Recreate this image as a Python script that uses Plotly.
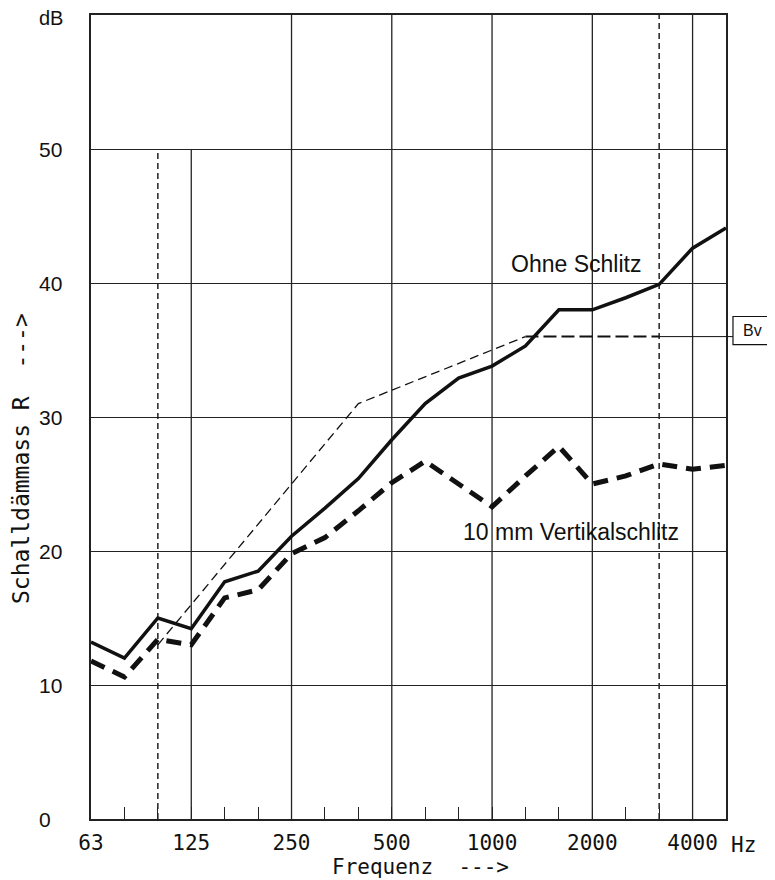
import plotly.graph_objects as go

# third-octave band centre frequencies (Hz)
freqs = [63, 80, 100, 125, 160, 200, 250, 315, 400, 500, 630, 800,
         1000, 1250, 1600, 2000, 2500, 3150, 4000, 5000]
# sound reduction index R (dB)
r_ohne = [13.2, 12.0, 15.0, 14.2, 17.7, 18.5, 21.1, 23.2, 25.4, 28.3, 31.0,
          32.9, 33.8, 35.3, 38.0, 38.0, 38.9, 39.9, 42.6, 44.1]
r_schlitz = [11.8, 10.6, 13.4, 13.0, 16.5, 17.1, 19.8, 21.0, 23.0, 25.1, 26.7,
             25.0, 23.3, 25.6, 27.8, 25.0, 25.6, 26.5, 26.1, 26.4]
# shifted reference curve (Bv)
ref_freqs = [100, 125, 160, 200, 250, 315, 400, 500, 630, 800, 1000, 1250,
             1600, 2000, 2500, 3150]
ref_vals = [13, 16, 19, 22, 25, 28, 31, 32, 33, 34, 35, 36, 36, 36, 36, 36]

octave_labels = ["63", "125", "250", "500", "1000", "2000", "4000"]
y_ticks = [0, 10, 20, 30, 40, 50]
y_top_label = "dB"

idx = {f: i for i, f in enumerate(freqs)}
x_all = [idx[f] for f in freqs]
x_ref = [idx[f] for f in ref_freqs]
n = len(freqs) - 1

fig = go.Figure()

# reference curve: sloped part thin, flat part a bit heavier
split = ref_freqs.index(1250)
fig.add_trace(go.Scatter(x=x_ref[:split + 1], y=ref_vals[:split + 1], mode="lines",
                         line=dict(color="#111", width=1.3, dash="9px,5px"),
                         showlegend=False, hoverinfo="skip"))
fig.add_trace(go.Scatter(x=x_ref[split:], y=ref_vals[split:], mode="lines",
                         line=dict(color="#111", width=2, dash="13px,5px"),
                         showlegend=False, hoverinfo="skip"))
fig.add_trace(go.Scatter(x=x_all, y=r_ohne, mode="lines",
                         line=dict(color="#111", width=3.5),
                         name="Ohne Schlitz", showlegend=False))
fig.add_trace(go.Scatter(x=x_all, y=r_schlitz, mode="lines",
                         line=dict(color="#111", width=5, dash="15px,9px"),
                         name="10 mm Vertikalschlitz", showlegend=False))

shapes = []
# octave lines (solid); 125 Hz only up to 50 dB
for lab in octave_labels[1:]:
    xi = idx[int(lab)]
    top = 50 if int(lab) == 125 else 60
    shapes.append(dict(type="line", xref="x", yref="y", x0=xi, x1=xi, y0=0, y1=top,
                       line=dict(color="#222", width=1.3), layer="below"))
# dashed lines at the limits of the evaluation range
for f, top in [(100, 50), (3150, 60)]:
    xi = idx[f]
    shapes.append(dict(type="line", xref="x", yref="y", x0=xi, x1=xi, y0=0, y1=top,
                       line=dict(color="#222", width=1.5, dash="6px,4px"), layer="below"))
# extension of the reference curve to the Bv box
x_end = idx[ref_freqs[-1]] / n
shapes.append(dict(type="line", xref="paper", yref="y", x0=x_end, x1=1.011,
                   y0=ref_vals[-1], y1=ref_vals[-1], line=dict(color="#111", width=1)))
shapes.append(dict(type="rect", xref="paper", yref="y", x0=1.011, x1=1.11,
                   y0=ref_vals[-1] - 0.6, y1=ref_vals[-1] + 1.5,
                   line=dict(color="#111", width=1.2), fillcolor="white"))

mono = "DejaVu Sans Mono"
ann = []
for v in y_ticks:
    ann.append(dict(xref="paper", yref="y", x=0, y=v, xshift=-54, xanchor="left",
                    yanchor="middle", text=str(v), showarrow=False,
                    font=dict(family="Liberation Sans", size=21, color="#111")))
ann.append(dict(xref="paper", yref="y", x=0, y=60, xshift=-54, yshift=-3,
                xanchor="left", yanchor="middle", text=y_top_label, showarrow=False,
                font=dict(family="Liberation Sans", size=20, color="#111")))
ann.append(dict(xref="paper", yref="paper", x=1, y=0, xshift=17, yshift=-26,
                xanchor="center", yanchor="middle", text="Hz", showarrow=False,
                font=dict(family=mono, size=21, color="#111")))
ann.append(dict(xref="paper", yref="paper", x=0.5, y=0, xshift=12, yshift=-48,
                xanchor="center", yanchor="middle", text="Frequenz  --->",
                showarrow=False, font=dict(family=mono, size=21, color="#111")))
ann.append(dict(xref="paper", yref="paper", x=0, y=0.5, xshift=-70, yshift=-42,
                xanchor="center", yanchor="middle", textangle=-90,
                text="Schalldämmass R  --->", showarrow=False,
                font=dict(family=mono, size=23, color="#111")))
ann.append(dict(xref="paper", yref="y", x=1.024, y=ref_vals[-1] + 0.45,
                xanchor="left", yanchor="middle", text="Bv", showarrow=False,
                font=dict(family="Liberation Sans", size=16, color="#111")))
ann.append(dict(xref="x", yref="y", x=idx[1600] + 0.5, y=41.4, text="Ohne Schlitz",
                showarrow=False, xanchor="center", yanchor="middle",
                font=dict(family="Liberation Sans", size=23, color="#111")))
ann.append(dict(xref="x", yref="y", x=idx[1250] + 1.35, y=21.4,
                text="10 mm Vertikalschlitz", showarrow=False,
                xanchor="center", yanchor="middle",
                font=dict(family="Liberation Sans", size=23, color="#111")))

ticktext = [str(f) if str(f) in octave_labels else "" for f in freqs]

# the page body has an 8px default margin, so the figure is 8px smaller
fig.update_layout(
    width=767, height=872,
    margin=dict(l=83, r=49, t=5, b=61),
    paper_bgcolor="white", plot_bgcolor="white",
    shapes=shapes, annotations=ann,
    xaxis=dict(range=[0, n], tickvals=x_all, ticktext=ticktext,
               ticks="inside", ticklen=12, tickwidth=1.3, tickcolor="#222",
               ticklabelstandoff=4,
               showgrid=False, zeroline=False, showline=True, mirror=True,
               linecolor="#222", linewidth=1.5,
               tickfont=dict(family=mono, size=21, color="#111")),
    yaxis=dict(range=[0, 60], tickvals=y_ticks + [60], showticklabels=False,
               ticks="", showgrid=True, gridcolor="#222", gridwidth=1.3,
               zeroline=False, showline=True, mirror=True,
               linecolor="#222", linewidth=1.5),
)

fig.write_html("out.html")
